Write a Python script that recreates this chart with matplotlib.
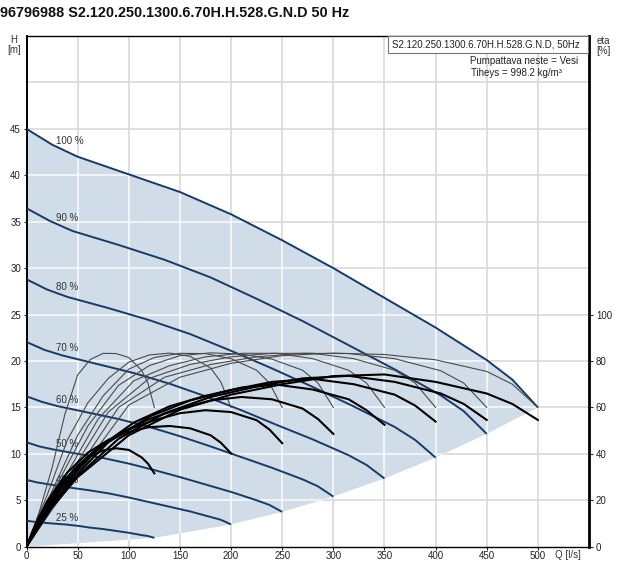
import matplotlib
matplotlib.use("Agg")
import matplotlib.pyplot as plt
from matplotlib.patches import Polygon, Rectangle
import numpy as np

plt.rcParams['font.family'] = ['Liberation Sans', 'DejaVu Sans']

# ---------------- data ----------------
speed_labels = ['100 %', '90 %', '80 %', '70 %', '60 %', '50 %', '40 %', '25 %']

q_100 = [0, 25, 50, 100, 150, 200, 250, 300, 350, 400, 450, 475, 500]
q_90 = [0, 22.5, 45, 90, 135, 180, 225, 270, 315, 360, 405, 427.5, 450]
q_80 = [0, 20, 40, 80, 120, 160, 200, 240, 280, 320, 360, 380, 400]
q_70 = [0, 17.5, 35, 70, 105, 140, 175, 210, 245, 280, 315, 332.5, 350]
q_60 = [0, 15, 30, 60, 90, 120, 150, 180, 210, 240, 270, 285, 300]
q_50 = [0, 12.5, 25, 50, 75, 100, 125, 150, 175, 200, 225, 237.5, 250]
q_40 = [0, 10, 20, 40, 60, 80, 100, 120, 140, 160, 180, 190, 200]
q_25 = [0, 6.25, 12.5, 25, 37.5, 50, 62.5, 75, 87.5, 100, 112.5, 118.75, 125]

# head H [m]
h_100 = [45.0, 43.3, 42.0, 40.1, 38.2, 35.8, 33.0, 30.0, 26.8, 23.6, 20.1, 18.0, 15.0]
h_90 = [36.45, 35.1, 34.0, 32.5, 30.9, 29.0, 26.7, 24.3, 21.7, 19.1, 16.3, 14.6, 12.15]
h_80 = [28.8, 27.7, 26.9, 25.7, 24.4, 22.9, 21.1, 19.2, 17.2, 15.1, 12.9, 11.5, 9.6]
h_70 = [22.05, 21.2, 20.6, 19.65, 18.7, 17.55, 16.2, 14.7, 13.1, 11.55, 9.85, 8.8, 7.35]
h_60 = [16.2, 15.6, 15.15, 14.45, 13.75, 12.9, 11.9, 10.8, 9.65, 8.5, 7.25, 6.5, 5.4]
h_50 = [11.25, 10.8, 10.5, 10.0, 9.55, 8.95, 8.25, 7.5, 6.7, 5.9, 5.0, 4.5, 3.75]
h_40 = [7.2, 6.93, 6.75, 6.4, 6.1, 5.75, 5.3, 4.8, 4.3, 3.8, 3.2, 2.9, 2.4]
h_25 = [2.8, 2.7, 2.63, 2.5, 2.4, 2.25, 2.05, 1.9, 1.7, 1.5, 1.25, 1.15, 0.95]

# thin efficiency curves [%]
ep_100 = [0, 16, 31, 61, 73, 79, 82.3, 83.4, 82.8, 80.5, 75.5, 70, 60]
ep_90 = [0, 15.5, 30, 60, 73, 78.5, 81.8, 83.3, 83.2, 81, 75.8, 70.5, 60]
ep_80 = [0, 15, 29.5, 58, 72.5, 78.5, 81.8, 83.3, 83.3, 81, 76, 70.5, 60]
ep_70 = [0, 14.5, 28, 55, 71.5, 78, 81.8, 83.3, 83.3, 81, 76, 70.5, 60]
ep_60 = [0, 14, 27, 52, 69.5, 78, 82.3, 83.5, 83, 80.8, 76, 70.5, 60]
ep_50 = [0, 12.5, 24, 48, 65, 76.5, 81.5, 83.3, 83.2, 81, 76, 70.5, 60]
ep_40 = [0, 11.5, 22, 46, 62, 72.5, 79.5, 82.6, 83.4, 82, 77, 71, 60]
ep_25 = [0, 7.5, 15, 34, 57, 74, 80.7, 83.3, 83.2, 81.5, 76, 70.5, 60]

# thick efficiency curves [%]
et_100 = [0, 17, 30, 48, 59, 65.5, 70, 73.5, 74.2, 71, 66, 61.5, 54.6]
et_90 = [0, 16, 28.5, 46.5, 57.5, 64.5, 69, 72.5, 73.6, 71, 66, 61.5, 54.6]
et_80 = [0, 15, 27, 45, 56, 63, 67.5, 71, 72.3, 70, 65.5, 60.8, 53.9]
et_70 = [0, 14, 25.5, 42.5, 53.5, 60.5, 65, 68.5, 69.8, 67.7, 63.5, 58.8, 52.5]
et_60 = [0, 13, 23.5, 38.5, 48.5, 55, 59.5, 63, 64.5, 63.5, 59.5, 55, 48.6]
et_50 = [0, 11.5, 21.5, 35, 44.5, 50.5, 54.5, 57.5, 58.8, 58, 54.5, 50.5, 44.6]
et_40 = [0, 10.5, 19.5, 32, 40.5, 46, 49.5, 51.5, 52, 51, 48, 44.8, 40.2]
et_25 = [0, 7, 13, 22, 29, 34.5, 39, 41.5, 42.4, 41.7, 38.5, 35.8, 31.6]

q_ticks = [0, 50, 100, 150, 200, 250, 300, 350, 400, 450, 500]
h_ticks = [0, 5, 10, 15, 20, 25, 30, 35, 40, 45]
eta_ticks = [0, 20, 40, 60, 80, 100]

curves_q = [q_100, q_90, q_80, q_70, q_60, q_50, q_40, q_25]
curves_h = [h_100, h_90, h_80, h_70, h_60, h_50, h_40, h_25]
curves_ep = [ep_100, ep_90, ep_80, ep_70, ep_60, ep_50, ep_40, ep_25]
curves_et = [et_100, et_90, et_80, et_70, et_60, et_50, et_40, et_25]

# ---------------- figure ----------------
W, H = 618, 561
fig = plt.figure(figsize=(W / 100, H / 100), dpi=100)
ax_l, ax_r, ax_t, ax_b = 26.5, 589, 36, 546.7
ax = fig.add_axes([ax_l / W, 1 - ax_b / H, (ax_r - ax_l) / W, (ax_b - ax_t) / H])
ax.set_xlim(0, 550)
ax.set_ylim(0, 55)

fill_col = '#d0dde9'
grid_col = '#d9d9d9'

# gray gridlines
for gx in q_ticks[1:]:
    ax.axvline(gx, color=grid_col, lw=1.2, zorder=0.5)
for gy in h_ticks[1:] + [50]:
    ax.axhline(gy, color=grid_col, lw=1.2, zorder=0.5)

# operating area
top = list(zip(q_100, h_100))
ends = [(q[-1], h[-1]) for q, h in zip(curves_q, curves_h)]
poly_pts = top + ends[1:] + [(0, 0)]
area = Polygon(poly_pts, closed=True, facecolor=fill_col, edgecolor='none', zorder=1)
ax.add_patch(area)

# white gridlines inside area
for gx in q_ticks[1:]:
    ln = ax.axvline(gx, color='#f7f9fb', lw=1.2, zorder=1.5)
    ln.set_clip_path(area)
for gy in h_ticks[1:] + [50]:
    ln = ax.axhline(gy, color='#f7f9fb', lw=1.2, zorder=1.5)
    ln.set_clip_path(area)

# speed labels
for q, h, lab in zip(curves_q, curves_h, speed_labels):
    yl = np.interp(28, q, h) + 0.6
    ax.text(28.5, yl, lab, fontsize=7, color='#333333', ha='left', va='center', zorder=2)

# H curves
for q, h in zip(curves_q, curves_h):
    ax.plot(q, h, color='#173b66', lw=1.4, zorder=3, solid_capstyle='butt')

ax.set_xticks(q_ticks)
ax.set_yticks(h_ticks)
ax.tick_params(axis='both', direction='out', length=2.5, width=0.8, labelsize=7,
               colors='#222222', pad=1.5)
ax.tick_params(axis='x', pad=0.5)
for s in ['left', 'bottom', 'top']:
    ax.spines[s].set_color('black')
ax.spines['left'].set_linewidth(1.4)
ax.spines['top'].set_linewidth(1.0)
ax.spines['bottom'].set_linewidth(1.0)
ax.spines['right'].set_visible(False)

# efficiency axis
ax2 = ax.twinx()
ax2.set_ylim(0, 220)
ax2.set_yticks(eta_ticks)
ax2.tick_params(axis='y', direction='out', length=3, width=0.8, labelsize=7,
                colors='#222222', pad=2)
for s in ['left', 'bottom', 'top']:
    ax2.spines[s].set_visible(False)
ax2.spines['right'].set_linewidth(2.0)
ax2.spines['right'].set_color('black')

for q, e in zip(curves_q, curves_ep):
    ax2.plot(q, e, color='#4a4a4a', lw=0.8, zorder=3)
for q, e in zip(curves_q, curves_et):
    ax2.plot(q, e, color='black', lw=1.5, zorder=4)

# ---------------- texts ----------------
fig.text(0.5 / W, 1 - 13 / H, '96796988 S2.120.250.1300.6.70H.H.528.G.N.D 50 Hz',
         fontsize=10.4, fontweight='bold', ha='left', va='center', color='#111111')

fig.text(14 / W, 1 - 40 / H, 'H', fontsize=7, ha='center', va='center', color='#333333')
fig.text(14 / W, 1 - 50 / H, '[m]', fontsize=7, ha='center', va='center', color='#333333')
fig.text(603 / W, 1 - 41 / H, 'eta', fontsize=7, ha='center', va='center', color='#333333')
fig.text(603 / W, 1 - 51 / H, '[%]', fontsize=7, ha='center', va='center', color='#333333')
fig.text(568 / W, 1 - 555 / H, 'Q [l/s]', fontsize=7, ha='center', va='center', color='#333333')

fig.patches.append(Rectangle((388 / W, 1 - 53 / H), (588 - 388) / W, 17 / H,
                             transform=fig.transFigure, facecolor='white',
                             edgecolor='#777777', lw=0.8, zorder=5))
fig.text(392 / W, 1 - 44.5 / H, 'S2.120.250.1300.6.70H.H.528.G.N.D, 50Hz', fontsize=7,
         ha='left', va='center', color='#222222', zorder=6)
fig.text(470 / W, 1 - 61 / H, 'Pumpattava neste = Vesi', fontsize=7,
         ha='left', va='center', color='#222222')
fig.text(471 / W, 1 - 73 / H, 'Tiheys = 998.2 kg/m³', fontsize=7,
         ha='left', va='center', color='#222222')

fig.savefig('out.png', dpi=100)
